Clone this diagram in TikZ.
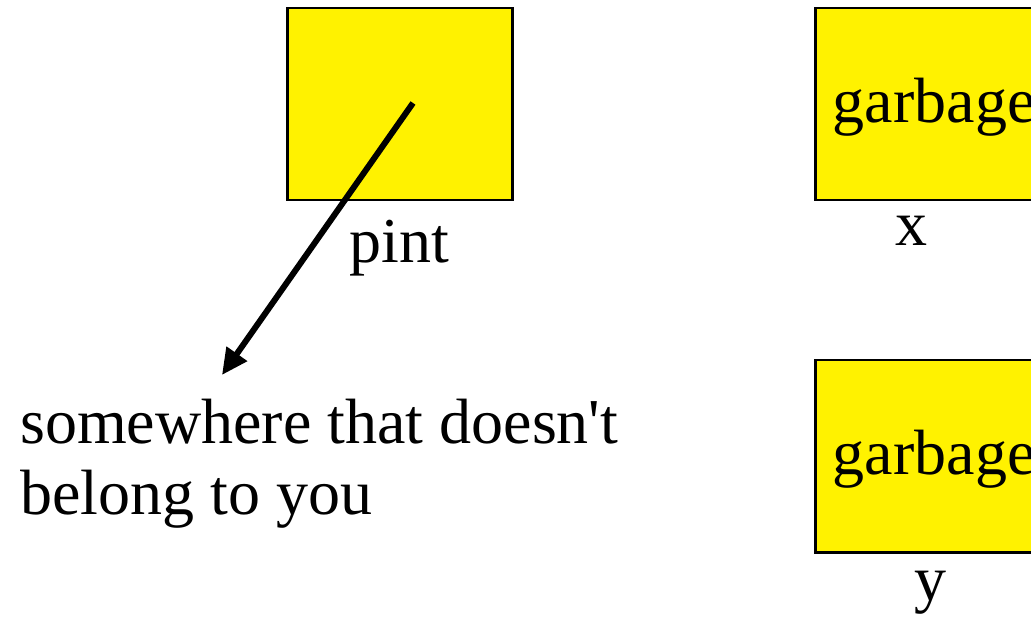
\documentclass[tikz,border=0pt]{standalone}
\usepackage{fontspec}
\setmainfont{Liberation Serif}[Ligatures=TeXOff]
\usetikzlibrary{arrows.meta}
\tikzset{
  membox/.style={draw=black, line width=2.5pt, fill=yellow, rectangle, inner sep=0pt,
    anchor=north west, font=\fontsize{64}{72}\selectfont},
  lbl/.style={anchor=base, inner sep=0pt, font=\fontsize{64}{72}\selectfont},
  ptr/.style={line width=6pt, -{Triangle[length=26pt,width=24pt]}}
}
\begin{document}
\begin{tikzpicture}[x=1pt,y=-1pt]
\clip (0,0) rectangle (1031,617);
\fill[white] (0,0) rectangle (1031,617);
\node[membox, minimum width=225pt, minimum height=192pt] (pint) at (286,7) {};
\node[membox, minimum width=238pt, minimum height=192pt, text depth=8pt] (x) at (814,7) {garbage};
\node[membox, minimum width=238pt, minimum height=192pt, text depth=8pt] (y) at (814,359) {garbage};
\node[lbl] (pintl) at (399,263) {pint};
\node[lbl] (xl) at (911,246) {x};
\node[lbl] (yl) at (930,600) {y};
\node[anchor=base west, inner sep=0pt, align=left, font=\fontsize{64}{71}\selectfont] (txt) at (20,514) {somewhere that doesn't\\belong to you};
\coordinate (start) at (413,103);
\coordinate (tip) at (222,375);
\draw[ptr] (start) -- (tip);
\end{tikzpicture}
\end{document}
